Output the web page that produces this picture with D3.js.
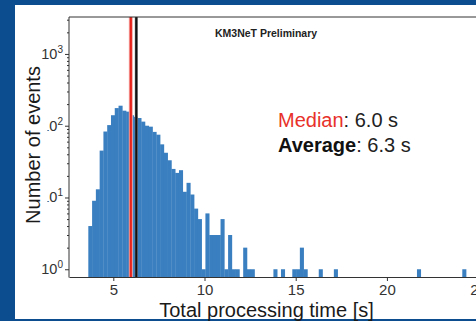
<!DOCTYPE html>
<html><head><meta charset="utf-8">
<script src="https://cdn.jsdelivr.net/npm/d3@7"></script>
<style>html,body{margin:0;padding:0;background:#0b4d8e;overflow:hidden}</style>
</head><body>
<script>
// ---- data ----
const binLo = 3.63, binHi = 24.34;
const counts = [4,9,13,45,83,102,140,176,190,162,
  157,140,133,128,114,100,97,82,75,55,
  42,33,25,22,24,12,16,11,7,5,
  1,6,3,3,3,5,1,3,1,1,
  0,2,1,1,0,0,0,0,0,1,
  0,1,0,0,1,1,2,1,0,0,
  0,1,0,0,0,1,0,0,0,0,
  0,0,0,0,0,0,0,0,0,0,
  0,0,0,0,0,0,0,1,0,0,
  0,0,0,0,0,0,0,0,0,1];
const medianVal = 5.96, meanVal = 6.26;
const xTicks = [5, 10, 15, 20, 25];
const yMajor = [1, 10, 100, 1000];
const yExp = ["0", "1", "2", "3"];
const xLabel = "Total processing time [s]";
const yLabel = "Number of events";
const tagText = "KM3NeT Preliminary";

const W = 476, H = 321;
const svg = d3.select("body").append("svg").attr("width", W).attr("height", H)
  .style("display","block").style("font-family","'Liberation Sans', Arial, sans-serif");
svg.append("rect").attr("width", W).attr("height", H).attr("fill", "#0b4d8e");
svg.append("rect").attr("x", 15).attr("y", 5).attr("width", W - 15).attr("height", 314).attr("fill", "#fff");

const x = d3.scaleLinear().domain([2.571, 26.2]).range([69, 500]);
const y = d3.scaleLog().domain([0.78, 3240]).range([277, 17.3]);
const y0 = y.range()[0];

const binW = (binHi - binLo) / counts.length;
const bins = counts.map((c, i) => ({x0: binLo + i * binW, x1: binLo + (i + 1) * binW, c}));

svg.append("g").selectAll("rect").data(bins.filter(d => d.c > 0)).join("rect")
  .attr("x", d => x(d.x0)).attr("width", d => x(d.x1) - x(d.x0) + 0.3)
  .attr("y", d => y(d.c)).attr("height", d => y0 - y(d.c))
  .attr("fill", "#3a7fc0");

// median / mean lines
svg.append("line").attr("x1", x(medianVal)).attr("x2", x(medianVal)).attr("y1", 17).attr("y2", 277)
  .attr("stroke", "#f4a9a6").attr("stroke-width", 4);
svg.append("line").attr("x1", x(medianVal)).attr("x2", x(medianVal)).attr("y1", 17).attr("y2", 277)
  .attr("stroke", "#e8231c").attr("stroke-width", 2.2);
svg.append("line").attr("x1", x(meanVal)).attr("x2", x(meanVal)).attr("y1", 17).attr("y2", 277)
  .attr("stroke", "#777").attr("stroke-width", 3);
svg.append("line").attr("x1", x(meanVal)).attr("x2", x(meanVal)).attr("y1", 17).attr("y2", 277)
  .attr("stroke", "#111").attr("stroke-width", 2);

// frame
const fr = svg.append("g").attr("stroke", "#333").attr("stroke-width", 1).attr("fill", "none");
fr.append("line").attr("x1", 69).attr("x2", 69).attr("y1", 17).attr("y2", 277.5);
fr.append("line").attr("x1", 69).attr("x2", 500).attr("y1", 17).attr("y2", 17);

// x axis
const xa = svg.append("g").attr("transform", "translate(0,277)")
  .call(d3.axisBottom(x).tickValues(xTicks).tickSize(4).tickSizeOuter(0).tickPadding(3));
xa.select(".domain").attr("stroke", "#333");
xa.selectAll(".tick line").attr("stroke", "#333");
xa.selectAll(".tick text").attr("font-size", 15).attr("fill", "#333")
  .attr("font-family", "'Liberation Sans', Arial, sans-serif");

// y axis: minor ticks
const yMinor = [];
for (let d = 0; d < 4; d++) for (let m = 2; m <= 9; m++) {
  const v = m * Math.pow(10, d);
  if (v < y.domain()[1]) yMinor.push(v);
}
const ym = svg.append("g").attr("transform", "translate(69,0)")
  .call(d3.axisLeft(y).tickValues(yMinor).tickSize(2).tickFormat(""));
ym.select(".domain").remove();
ym.selectAll(".tick line").attr("stroke", "#333");
const yM = svg.append("g").attr("transform", "translate(69,0)")
  .call(d3.axisLeft(y).tickValues(yMajor).tickSize(4).tickFormat(""));
yM.select(".domain").remove();
yM.selectAll(".tick line").attr("stroke", "#333");

// y tick labels 10^n
yMajor.forEach((v, i) => {
  const t = svg.append("text").attr("x", 63).attr("y", y(v) + 5).attr("text-anchor", "end")
    .attr("font-size", 14.5).attr("fill", "#333");
  t.append("tspan").text("10");
  t.append("tspan").attr("dy", -6).attr("font-size", 10).text(yExp[i]);
});

// y label with white box
svg.append("rect").attr("x", 22).attr("y", 60).attr("width", 25.5).attr("height", 170).attr("fill", "#fff");
svg.append("text").attr("transform", "translate(40,145) rotate(-90)").attr("text-anchor", "middle")
  .attr("font-size", 20).attr("fill", "#1a1a1a").text(yLabel);

// x label
svg.append("text").attr("x", 266.5).attr("y", 317).attr("text-anchor", "middle")
  .attr("font-size", 20).attr("fill", "#1a1a1a").text(xLabel);

// KM3NeT tag
svg.append("text").attr("x", 215).attr("y", 37).attr("font-size", 10.5).attr("font-weight", "bold")
  .attr("fill", "#222").text(tagText);

// annotations
const a1 = svg.append("text").attr("x", 278).attr("y", 127).attr("font-size", 20).attr("fill", "#222");
a1.append("tspan").attr("fill", "#e8312a").text("Median");
a1.append("tspan").text(": " + medianVal.toFixed(1) + " s");
const a2 = svg.append("text").attr("x", 278).attr("y", 152).attr("font-size", 20).attr("fill", "#222");
a2.append("tspan").attr("font-weight", "bold").attr("fill", "#111").text("Average");
a2.append("tspan").text(": " + meanVal.toFixed(1) + " s");
</script>
</body></html>
